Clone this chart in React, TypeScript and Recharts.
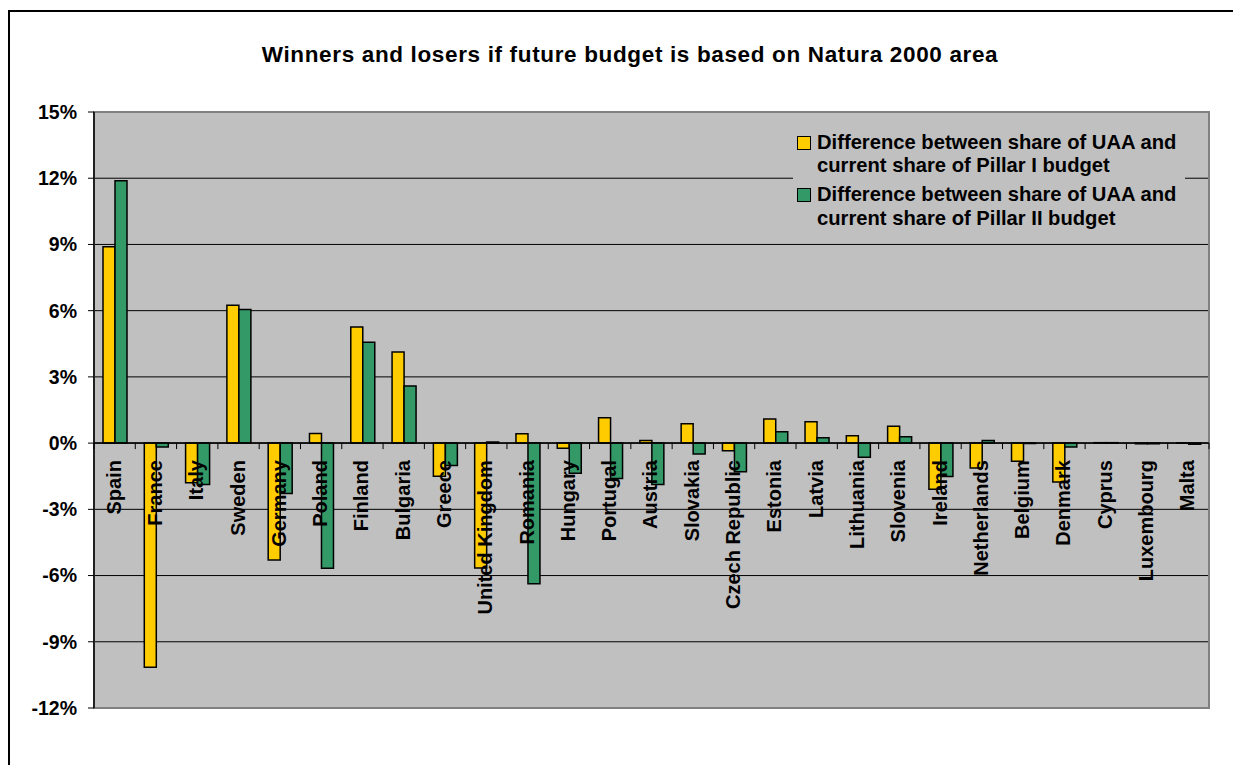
import React from 'react';
import {
  Bar,
  BarChart,
  CartesianGrid,
  Legend,
  ReferenceArea,
  ReferenceLine,
  XAxis,
  YAxis,
} from 'recharts';

const countries = [
  'Spain', 'France', 'Italy', 'Sweden', 'Germany', 'Poland', 'Finland', 'Bulgaria',
  'Greece', 'United Kingdom', 'Romania', 'Hungary', 'Portugal', 'Austria', 'Slovakia',
  'Czech Republic', 'Estonia', 'Latvia', 'Lithuania', 'Slovenia', 'Ireland',
  'Netherlands', 'Belgium', 'Denmark', 'Cyprus', 'Luxembourg', 'Malta',
];

// difference between share of UAA and current share of Pillar I budget (%)
const pillar1 = [
  8.9, -10.15, -1.8, 6.25, -5.3, 0.43, 5.26, 4.13, -1.5, -5.66, 0.42, -0.23, 1.15, 0.12,
  0.88, -0.35, 1.09, 0.97, 0.33, 0.76, -2.09, -1.13, -0.82, -1.76, 0.02, -0.03, 0.01,
];

// difference between share of UAA and current share of Pillar II budget (%)
const pillar2 = [
  11.89, -0.18, -1.87, 6.05, -2.28, -5.67, 4.57, 2.59, -1.01, 0.05, -6.37, -1.36, -1.6,
  -1.87, -0.49, -1.3, 0.51, 0.24, -0.64, 0.29, -1.51, 0.12, -0.02, -0.18, 0.02, -0.03, -0.05,
];

const yTicks = [-12, -9, -6, -3, 0, 3, 6, 9, 12, 15];

const seriesNames = [
  'Difference between share of UAA and current share of Pillar I budget',
  'Difference between share of UAA and current share of Pillar II budget',
];
const seriesColors = ['#FFCC00', '#339966'];

const title = 'Winners and losers if future budget is based on Natura 2000 area';

const data = countries.map((country, i) => ({
  country,
  pillar1: pillar1[i],
  pillar2: pillar2[i],
}));

const FONT = '"Liberation Sans", Arial, sans-serif';

// plot geometry (page px), chart svg sits at the page origin
const PLOT_LEFT = 94;
const PLOT_TOP = 112;
const PLOT_RIGHT = 1209;
const PLOT_BOTTOM = 708;
const CHART_W = 1241;
const CHART_H = 773;
const Y_AXIS_W = 80;
const X_AXIS_H = 30;
const ZERO_Y = PLOT_TOP + ((PLOT_BOTTOM - PLOT_TOP) * 15) / 27;
const BAND = (PLOT_RIGHT - PLOT_LEFT) / countries.length;

function CountryTick(props: any) {
  const { x, payload, index } = props;
  const ty = ZERO_Y + 17;
  return (
    <g>
      <line x1={x - BAND / 2} x2={x - BAND / 2} y1={ZERO_Y} y2={ZERO_Y + 6} stroke="#000" />
      {index === countries.length - 1 && (
        <line x1={x + BAND / 2} x2={x + BAND / 2} y1={ZERO_Y} y2={ZERO_Y + 6} stroke="#000" />
      )}
      <text
        x={x}
        y={ty}
        dy="0.3em"
        transform={`rotate(-90, ${x}, ${ty})`}
        textAnchor="end"
        fontFamily={FONT}
        fontWeight={700}
        fontSize={20}
        fill="#000"
      >
        {payload.value}
      </text>
    </g>
  );
}

function LegendBox() {
  return (
    <div
      style={{
        background: '#C0C0C0',
        width: 392,
        height: 106,
        boxSizing: 'border-box',
        paddingTop: 5,
        fontFamily: FONT,
        fontWeight: 700,
        fontSize: 20.2,
        lineHeight: '23.4px',
        color: '#000',
        textAlign: 'left',
      }}
    >
      {seriesNames.map((name, i) => (
        <div key={name} style={{ display: 'flex', marginBottom: 5.5 }}>
          <div
            style={{
              width: 12,
              height: 12,
              marginTop: 5,
              marginLeft: 4,
              marginRight: 6,
              background: seriesColors[i],
              border: '1px solid #000',
              flex: 'none',
            }}
          />
          <div style={{ width: 368 }}>{name}</div>
        </div>
      ))}
    </div>
  );
}

export default function App() {
  return (
    <div style={{ position: 'relative', width: 1233, height: 757, overflow: 'hidden' }}>
      <div
        style={{
          position: 'absolute',
          left: 0,
          top: 2,
          width: 1400,
          height: 1000,
          borderTop: '2px solid #000',
          borderLeft: '2px solid #000',
        }}
      />
      <div
        style={{
          position: 'absolute',
          left: 22,
          top: 36.5,
          width: 1200,
          textAlign: 'center',
          fontFamily: FONT,
          fontWeight: 700,
          fontSize: 22.5,
          letterSpacing: 0.65,
          lineHeight: '20px',
          whiteSpace: 'nowrap',
        }}
      >
        {title}
      </div>
      <div style={{ position: 'absolute', left: -8, top: -8 }}>
        <BarChart
          width={CHART_W}
          height={CHART_H}
          data={data}
          barSize={12}
          barGap={0}
          margin={{
            top: PLOT_TOP,
            right: CHART_W - PLOT_RIGHT,
            bottom: CHART_H - PLOT_BOTTOM - X_AXIS_H,
            left: PLOT_LEFT - Y_AXIS_W,
          }}
        >
          <CartesianGrid vertical={false} stroke="#000" fill="#C0C0C0" fillOpacity={1} />
          <ReferenceArea y1={-12} y2={15} fill="none" stroke="#808080" strokeWidth={2} />
          <YAxis
            width={Y_AXIS_W}
            domain={[-12, 15]}
            ticks={yTicks}
            interval={0}
            allowDataOverflow
            tickFormatter={(v: number) => `${v}%`}
            axisLine={{ stroke: '#000', strokeWidth: 1.5 }}
            tickLine={{ stroke: '#000' }}
            tickSize={6}
            tickMargin={11}
            tick={{ fontFamily: FONT, fontWeight: 700, fontSize: 19.5, fill: '#000' }}
          />
          <Bar
            dataKey="pillar1"
            name={seriesNames[0]}
            fill={seriesColors[0]}
            stroke="#000"
            strokeWidth={1.5}
            isAnimationActive={false}
          />
          <Bar
            dataKey="pillar2"
            name={seriesNames[1]}
            fill={seriesColors[1]}
            stroke="#000"
            strokeWidth={1.5}
            isAnimationActive={false}
          />
          <ReferenceLine y={0} stroke="#000" strokeWidth={1.5} />
          <XAxis
            dataKey="country"
            height={X_AXIS_H}
            interval={0}
            axisLine={false}
            tickLine={false}
            tick={(p: any) => <CountryTick {...p} />}
          />
          <Legend
            layout="horizontal"
            verticalAlign="middle"
            align="center"
            content={() => <LegendBox />}
            wrapperStyle={{ position: 'absolute', left: 793, top: 126, width: 392, height: 106 }}
          />
        </BarChart>
      </div>
    </div>
  );
}
